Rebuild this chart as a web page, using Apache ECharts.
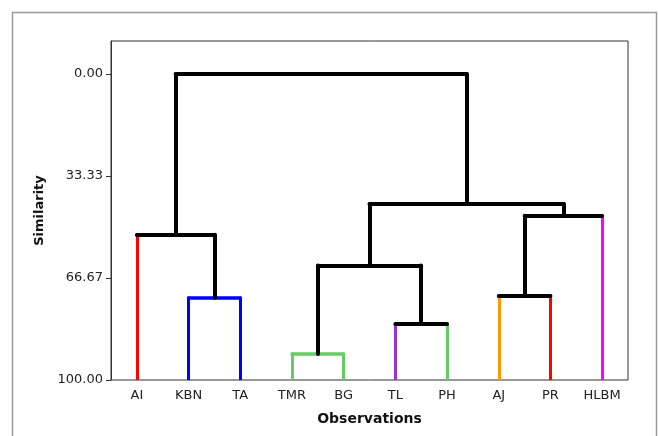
<!DOCTYPE html>
<html>
<head>
<meta charset="utf-8">
<script src="https://cdn.jsdelivr.net/npm/echarts@6/dist/echarts.min.js"></script>
<style>
  html, body { margin: 0; padding: 0; background: #fff; }
  #main { width: 659px; height: 436px; }
</style>
</head>
<body>
<div id="main"></div>
<script>
  // leaves of the dendrogram, left to right
  const leaves = ['AI', 'KBN', 'TA', 'TMR', 'BG', 'TL', 'PH', 'AJ', 'PR', 'HLBM'];
  const leafColors = ['#ff0000', '#0000ff', '#0000ff', '#66cc66', '#66cc66', '#9933cc', '#66cc66', '#ff9900', '#ff0000', '#ff00ff'];
  // merge steps: [child a, child b, similarity]; leaves are 0..9, new clusters get 10, 11, ...
  const merges = [
    [3, 4, 91.5],
    [5, 6, 81.7],
    [1, 2, 73.1],
    [7, 8, 72.4],
    [10, 11, 62.6],
    [0, 12, 52.5],
    [13, 9, 46.3],
    [14, 16, 42.5],
    [15, 17, 0.0]
  ];
  const yTicks = [0, 33.33, 66.67, 100];

  // dendrogram layout: node x = mean of children, leaf height = 100
  const nodeX = leaves.map((d, i) => i);
  const nodeY = leaves.map(() => 100);
  const segs = [];
  merges.forEach(m => {
    const a = m[0], b = m[1], h = m[2];
    const xa = nodeX[a], xb = nodeX[b];
    const ca = a < leaves.length ? leafColors[a] : '#000';
    const cb = b < leaves.length ? leafColors[b] : '#000';
    const ch = (a < leaves.length && b < leaves.length && ca === cb) ? ca : '#000';
    segs.push({ coords: [[xa, nodeY[a]], [xa, h]], lineStyle: { color: ca, width: ca === '#000' ? 4 : 3 } });
    segs.push({ coords: [[xb, nodeY[b]], [xb, h]], lineStyle: { color: cb, width: cb === '#000' ? 4 : 3 } });
    segs.push({ coords: [[xa, h], [xb, h]], lineStyle: { color: ch, width: ch === '#000' ? 4 : 3.5 } });
    nodeX.push((xa + xb) / 2);
    nodeY.push(h);
  });

  const myChart = echarts.init(document.getElementById('main'));
  myChart.setOption({
    animation: false,
    textStyle: { fontFamily: 'DejaVu Sans' },
    graphic: [{
      type: 'rect',
      shape: { x: 12.5, y: 12.5, width: 644, height: 500 },
      style: { fill: 'none', stroke: '#9a9a9a', lineWidth: 1.5 },
      silent: true
    }],
    grid: {
      left: 111, right: 31, top: 41, bottom: 56,
      show: true, borderColor: '#333', borderWidth: 1
    },
    xAxis: [{
      type: 'category',
      data: leaves,
      boundaryGap: true,
      name: 'Observations',
      nameLocation: 'middle',
      nameGap: 32,
      nameTextStyle: { fontWeight: 'bold', fontSize: 14, color: '#111' },
      axisLine: { show: false },
      axisTick: { show: false },
      axisLabel: { fontSize: 13, color: '#222', margin: 9 }
    }, {
      type: 'value',
      min: -0.5,
      max: 9.5,
      show: false
    }],
    yAxis: {
      type: 'value',
      inverse: true,
      min: -10.8,
      max: 100,
      name: 'Similarity',
      nameLocation: 'middle',
      nameGap: 64,
      nameTextStyle: { fontWeight: 'bold', fontSize: 13, color: '#111' },
      splitLine: { show: false },
      axisLine: { show: true, onZero: false, lineStyle: { color: '#333', width: 1 } },
      axisTick: { show: true, length: 5, lineStyle: { color: '#333' }, customValues: yTicks },
      axisLabel: {
        fontSize: 13, color: '#222', margin: 8,
        customValues: yTicks,
        formatter: v => v.toFixed(2)
      }
    },
    series: [{
      type: 'lines',
      coordinateSystem: 'cartesian2d',
      xAxisIndex: 1,
      yAxisIndex: 0,
      lineStyle: { cap: 'round', opacity: 1 },
      data: segs,
      silent: true
    }]
  });
  window.addEventListener('resize', () => {
    myChart.resize();
  });
</script>
</body>
</html>
